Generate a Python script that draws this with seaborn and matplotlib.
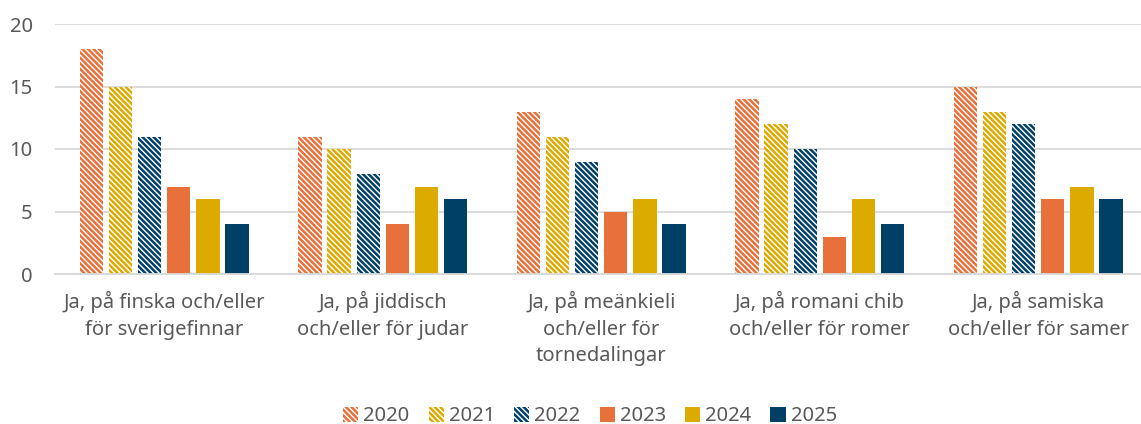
import matplotlib
matplotlib.use("Agg")
import matplotlib.pyplot as plt
import seaborn as sns
import pandas as pd
from matplotlib.patches import Patch

categories = [
    "Ja, på finska och/eller\nför sverigefinnar",
    "Ja, på jiddisch\noch/eller för judar",
    "Ja, på meänkieli\noch/eller för\ntornedalingar",
    "Ja, på romani chib\noch/eller för romer",
    "Ja, på samiska\noch/eller för samer",
]
years = ["2020", "2021", "2022", "2023", "2024", "2025"]
v2020 = [18, 11, 13, 14, 15]
v2021 = [15, 10, 11, 12, 13]
v2022 = [11, 8, 9, 10, 12]
v2023 = [7, 4, 5, 3, 6]
v2024 = [6, 7, 6, 6, 7]
v2025 = [4, 6, 4, 4, 6]
series = [v2020, v2021, v2022, v2023, v2024, v2025]

colors = ["#E8703A", "#DDAA00", "#003F66", "#E8703A", "#DDAA00", "#003F66"]
hatched = [True, True, True, False, False, False]
HATCH = "\\" * 6

rows = []
for y, vals in zip(years, series):
    for c, v in zip(categories, vals):
        rows.append({"cat": c, "year": y, "value": v})
df = pd.DataFrame(rows)

sns.set_theme(style="white")
plt.rcParams["font.family"] = ["Noto Sans", "DejaVu Sans"]
plt.rcParams["hatch.linewidth"] = 1.8

fig = plt.figure(figsize=(11.41, 4.24), dpi=100)
# axes spans pixel x 55..1141, y 24..274
ax = fig.add_axes([55 / 1141, 1 - 274 / 424, (1141 - 55) / 1141, 250 / 424])

sns.barplot(data=df, x="cat", y="value", hue="year", hue_order=years,
            palette=colors, width=0.8, gap=0.2, ax=ax, legend=False,
            linewidth=0, saturation=1)

for i, cont in enumerate(ax.containers):
    for bar in cont:
        if hatched[i]:
            bar.set_facecolor("white")
            bar.set_edgecolor(colors[i])
            bar.set_hatch(HATCH)
            bar.set_linewidth(0)
        else:
            bar.set_facecolor(colors[i])
            bar.set_edgecolor(colors[i])
            bar.set_linewidth(0)

ax.set_ylim(0, 20)
ax.set_yticks([0, 5, 10, 15, 20])
ax.yaxis.grid(True, color="#D9D9D9", linewidth=1.3)
ax.set_axisbelow(True)
for s in ["top", "right", "left"]:
    ax.spines[s].set_visible(False)
ax.spines["bottom"].set_color("#D9D9D9")
ax.spines["bottom"].set_linewidth(1.3)
ax.set_xlabel("")
ax.set_ylabel("")
ax.tick_params(axis="both", length=0, labelsize=14.5, labelcolor="#595959")
ax.tick_params(axis="x", pad=12)
ax.tick_params(axis="y", pad=16)
for t in ax.get_xticklabels():
    t.set_linespacing(1.45)
span = 218.5
ax.set_xlim(-0.5, -0.5 + (1141 - 55) / span)

handles = []
for i in range(6):
    if hatched[i]:
        handles.append(Patch(facecolor="white", edgecolor=colors[i], hatch=HATCH, linewidth=0))
    else:
        handles.append(Patch(facecolor=colors[i], edgecolor=colors[i], linewidth=0))
leg = fig.legend(handles, years, loc="lower center", bbox_to_anchor=(590 / 1141, -0.01),
                 ncol=6, frameon=False, fontsize=14.5, handlelength=0.75, handleheight=0.75,
                 handletextpad=0.25, columnspacing=0.95, borderpad=0.1, borderaxespad=0)
for t in leg.get_texts():
    t.set_color("#595959")

fig.savefig("out.png", dpi=100)
